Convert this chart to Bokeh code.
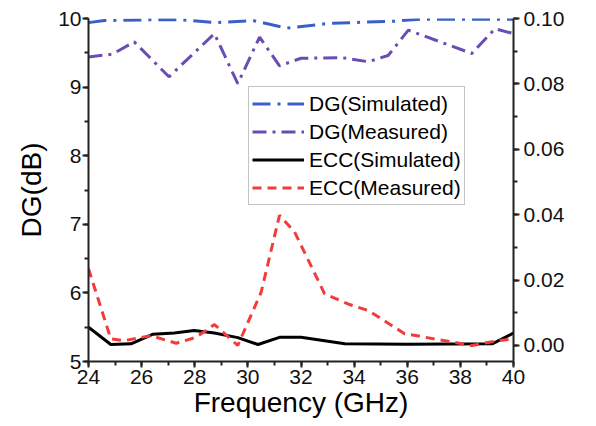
import math
from bokeh.plotting import figure
from bokeh.models import Range1d, LinearAxis, FixedTicker, Legend, LegendItem, PrintfTickFormatter, Label
from bokeh.embed import file_html
from bokeh.resources import INLINE

# ---- data ----
freq_dg_sim = [24.0, 24.6, 26.0, 27.5, 28.8, 30.2, 31.45, 33.1, 35.5, 36.5, 40.0]
dg_sim = [9.94, 9.97, 9.98, 9.98, 9.94, 9.97, 9.86, 9.93, 9.96, 9.99, 9.99]

freq_dg_meas = [24.0, 24.9, 25.72, 27.03, 28.74, 29.62, 30.44, 31.19, 32.0, 33.52, 34.53, 35.28, 36.04, 38.43, 39.3, 40.0]
dg_meas = [9.44, 9.48, 9.66, 9.15, 9.78, 9.05, 9.73, 9.31, 9.42, 9.43, 9.37, 9.46, 9.83, 9.49, 9.85, 9.78]

freq_ecc_sim = [24.0, 24.84, 25.6, 26.41, 27.23, 27.98, 28.74, 29.62, 30.38, 31.19, 32.0, 33.65, 36.0, 39.2, 40.0]
ecc_sim = [0.0056, 0.0003, 0.0005, 0.0034, 0.0038, 0.0046, 0.0038, 0.0024, 0.0003, 0.0025, 0.0025, 0.0005, 0.0004, 0.0005, 0.0038]

freq_ecc_meas = [24.0, 24.84, 25.35, 26.35, 27.3, 28.05, 28.74, 29.62, 30.5, 31.19, 31.76, 32.89, 33.77, 34.53, 35.9, 37.04, 38.43, 39.43, 40.0]
ecc_meas = [0.0235, 0.002, 0.0015, 0.003, 0.0007, 0.0025, 0.0064, 0.0, 0.0163, 0.0398, 0.0347, 0.0158, 0.0127, 0.0107, 0.0036, 0.002, 0.0, 0.0015, 0.002]

x_ticks = [24, 26, 28, 30, 32, 34, 36, 38, 40]
dg_ticks = [5, 6, 7, 8, 9, 10]
ecc_ticks = [0.00, 0.02, 0.04, 0.06, 0.08, 0.10]

FONT = "Liberation Sans"

p = figure(width=596, height=426, output_backend="svg", toolbar_location=None,
           x_range=Range1d(24, 40), y_range=Range1d(5, 10),
           min_border_left=88, min_border_right=83, min_border_top=18, min_border_bottom=65)
p.outline_line_color = None
p.xgrid.visible = False
p.ygrid.visible = False
p.background_fill_color = "white"
p.border_fill_color = "white"

p.extra_y_ranges = {"ecc": Range1d(-0.0049, 0.10)}

def style_axis(ax, label, size):
    ax.axis_label = label
    ax.axis_label_text_font = FONT
    ax.axis_label_text_font_size = size
    ax.axis_label_text_font_style = "normal"
    ax.axis_label_text_color = "black"
    ax.major_label_text_font = FONT
    ax.major_label_text_font_size = "21px"
    ax.major_label_text_color = "#111111"
    ax.axis_line_width = 2
    ax.axis_line_color = "#222222"
    ax.major_tick_line_width = 2
    ax.minor_tick_line_width = 2
    ax.major_tick_line_color = "#222222"
    ax.minor_tick_line_color = "#222222"
    ax.major_tick_out = 6
    ax.major_tick_in = 0
    ax.minor_tick_out = 4
    ax.minor_tick_in = 0

p.xaxis.ticker = FixedTicker(ticks=x_ticks, minor_ticks=list(range(24, 41)))
style_axis(p.xaxis[0], "Frequency (GHz)", "28px")
p.xaxis.axis_label_standoff = 0
p.xaxis.major_label_standoff = 2

p.yaxis.ticker = FixedTicker(ticks=dg_ticks, minor_ticks=[5 + 0.5 * i for i in range(11)])
style_axis(p.yaxis[0], "DG(dB)", "28px")
p.yaxis.axis_label_standoff = 8
p.yaxis.major_label_standoff = 1

r_axis = LinearAxis(y_range_name="ecc")
r_axis.ticker = FixedTicker(ticks=ecc_ticks, minor_ticks=[0.01 * i for i in range(11)])
r_axis.formatter = PrintfTickFormatter(format="%.2f")
style_axis(r_axis, None, "26px")
r_axis.major_label_standoff = 4
p.add_layout(r_axis, "right")

# right-axis title, reading bottom-to-top as in the reference
ecc_title = Label(x=40, y=0.048, y_range_name="ecc", x_offset=70, text="ECC",
                  angle=math.pi / 2, angle_units="rad",
                  text_align="center", text_baseline="middle",
                  text_font=FONT, text_font_size="26px", text_color="black")
p.add_layout(ecc_title)

l1 = p.line(freq_dg_sim, dg_sim, line_color="#3a5fc8", line_width=3, line_dash="18 7 3 7")
l2 = p.line(freq_dg_meas, dg_meas, line_color="#6a4db3", line_width=3, line_dash="14 6 3 6")
l3 = p.line(freq_ecc_sim, ecc_sim, y_range_name="ecc", line_color="black", line_width=3)
l4 = p.line(freq_ecc_meas, ecc_meas, y_range_name="ecc", line_color="#f23c3c", line_width=3, line_dash="9 6")

legend = Legend(items=[
    LegendItem(label="DG(Simulated)", renderers=[l1]),
    LegendItem(label="DG(Measured)", renderers=[l2]),
    LegendItem(label="ECC(Simulated)", renderers=[l3]),
    LegendItem(label="ECC(Measured)", renderers=[l4]),
], location=(160, 156))
legend.label_text_font = FONT
legend.label_text_font_size = "21px"
legend.label_text_color = "black"
legend.glyph_width = 52
legend.glyph_height = 27
legend.label_height = 27
legend.spacing = 1
legend.padding = 3
legend.margin = 0
legend.label_standoff = 5
legend.border_line_color = "#888888"
legend.border_line_width = 1
legend.background_fill_alpha = 1
p.add_layout(legend, "center")

open("out.html", "w").write(file_html(p, INLINE))
